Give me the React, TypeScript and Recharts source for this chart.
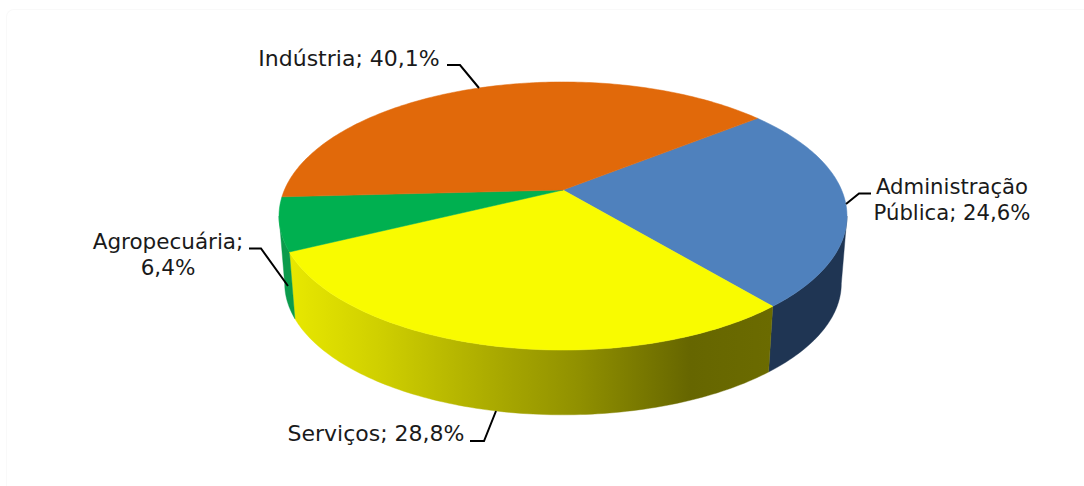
import React from "react";
import { PieChart, Pie, Cell } from "recharts";

const categories = ["Administração Pública", "Serviços", "Agropecuária", "Indústria"];
const shares = [24.6, 28.8, 6.4, 40.1];
const topColors = ["#4f81bd", "#f9fb00", "#00b050", "#e1690a"];
const wallFills = ["#1f3553", "url(#wallYellow)", "#0b9b4c", "#a04c06"];
const data = categories.map((name, i) => ({ name, value: shares[i] }));

const labelLines: Record<string, string[]> = {
  "Administração Pública": ["Administração", "Pública; 24,6%"],
  "Serviços": ["Serviços; 28,8%"],
  "Agropecuária": ["Agropecuária;", "6,4%"],
  "Indústria": ["Indústria; 40,1%"],
};
const labelPlace: Record<string, { x: number; y: number; size: number; leader: string }> = {
  "Administração Pública": { x: 952, y: 194, size: 21.2, leader: "846,204 859,193.5 871,193.5" },
  "Serviços": { x: 376, y: 441, size: 22, leader: "470,441 484,441 496,411" },
  "Agropecuária": { x: 168, y: 249, size: 21.5, leader: "249,248.5 261,248.5 288,286" },
  "Indústria": { x: 349, y: 66, size: 22, leader: "447,65 460,65 479,88" },
};

// perspective of the disc: turns a pie angle into a point on the projected rim
const TILT_A = 129;
const TILT_C = 0.194;
const WIDTH_D = 278.6;
const WALL_DROP = 68;
const WALL_SCALE = 0.98;

const rim = (deg: number, cx: number, cy: number, scale = 1, drop = 0) => {
  const r = (deg * Math.PI) / 180;
  const w = 1 + TILT_C * Math.sin(r);
  return [
    cx + (scale * WIDTH_D * Math.cos(r)) / w,
    cy + drop - (scale * TILT_A * Math.sin(r)) / w,
  ];
};

const arcPoints = (a: number, b: number, cx: number, cy: number, scale = 1, drop = 0) => {
  const n = Math.max(2, Math.ceil(Math.abs(a - b) / 1));
  const pts: number[][] = [];
  for (let i = 0; i <= n; i++) pts.push(rim(a + ((b - a) * i) / n, cx, cy, scale, drop));
  return pts;
};

const toPath = (pts: number[][]) =>
  pts.map((p, i) => `${i ? "L" : "M"}${p[0].toFixed(2)},${p[1].toFixed(2)}`).join(" ");

const TopFace = (p: any) => {
  const pts = arcPoints(p.startAngle, p.endAngle, p.cx, p.cy);
  return (
    <path
      d={`M${p.cx},${p.cy} ${toPath(pts).replace("M", "L")} Z`}
      fill={p.fill}
      stroke={p.fill}
      strokeWidth={0.5}
    />
  );
};

const RIGHT_EDGE = -11.2;
const LEFT_EDGE = -168.8;

const WallFace = (p: any) => {
  const i = categories.indexOf(p.name ?? p.payload?.name);
  // normalise the slice's angles into one turn ending at the front of the disc
  let hi = p.startAngle;
  let lo = p.endAngle;
  while (lo < -360) {
    hi += 360;
    lo += 360;
  }
  const a = Math.min(hi, RIGHT_EDGE);
  const b = Math.max(lo, LEFT_EDGE);
  if (a <= b) return <g />;
  const top = arcPoints(a, b, p.cx, p.cy);
  const bottom = arcPoints(b, a, p.cx, p.cy, WALL_SCALE, WALL_DROP);
  const fill = wallFills[i];
  return <path d={toPath([...top, ...bottom]) + " Z"} fill={fill} stroke={fill} strokeWidth={0.4} />;
};

const SliceLabel = (p: any) => {
  const name = p.name ?? p.payload?.name;
  const place = labelPlace[name];
  return (
    <g>
      <polyline points={place.leader} fill="none" stroke="#000" strokeWidth={2} />
      <text
        x={place.x}
        y={place.y}
        textAnchor="middle"
        fill="#1a1a1a"
        fontFamily="'DejaVu Sans', Verdana, sans-serif"
        fontSize={place.size}
      >
        {labelLines[name].map((line, k) => (
          <tspan key={k} x={place.x} dy={k ? 26 : 0}>
            {line}
          </tspan>
        ))}
      </text>
    </g>
  );
};

export default function App() {
  return (
    <div style={{ position: "absolute", left: 0, top: 0, width: 1084, height: 486, background: "#fff", overflow: "hidden" }}>
      <div
        style={{
          position: "absolute",
          left: 6,
          top: 9,
          width: 1078,
          height: 477,
          borderTop: "1px solid #f9f9f9",
          borderLeft: "1px solid #f9f9f9",
          borderTopLeftRadius: 8,
          boxSizing: "border-box",
        }}
      />
      <div style={{ position: "absolute", left: 0, top: 0 }}>
        <PieChart width={1084} height={486} margin={{ top: 0, right: 0, bottom: 0, left: 0 }}>
          <defs>
            <linearGradient id="wallYellow" gradientUnits="userSpaceOnUse" x1="290" y1="0" x2="772" y2="0">
              <stop offset="0" stopColor="#e8e800" />
              <stop offset="0.18" stopColor="#d0d000" />
              <stop offset="0.45" stopColor="#a6a600" />
              <stop offset="0.6" stopColor="#909000" />
              <stop offset="0.83" stopColor="#666600" />
              <stop offset="1" stopColor="#6b6b00" />
            </linearGradient>
          </defs>
          <Pie
            data={data}
            dataKey="value"
            nameKey="name"
            cx={563}
            cy={190}
            outerRadius={150}
            startAngle={38.5}
            endAngle={-321.5}
            stroke="none"
            isAnimationActive={false}
            shape={WallFace}
            label={false}
            labelLine={false}
          />
          <Pie
            data={data}
            dataKey="value"
            nameKey="name"
            cx={563}
            cy={190}
            outerRadius={150}
            startAngle={38.5}
            endAngle={-321.5}
            stroke="none"
            isAnimationActive={false}
            shape={TopFace}
            label={SliceLabel}
            labelLine={false}
          >
            {data.map((d, i) => (
              <Cell key={d.name} fill={topColors[i]} />
            ))}
          </Pie>
        </PieChart>
      </div>
    </div>
  );
}
